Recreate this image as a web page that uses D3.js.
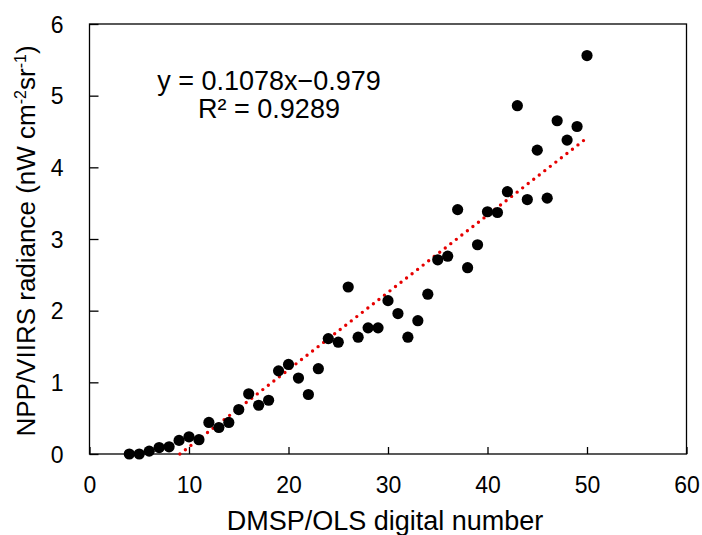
<!DOCTYPE html>
<meta charset="utf-8">
<style>
body { margin: 0; background: #fff; }
svg { font-family: "Liberation Sans", Arial, sans-serif; }
.tick text { font-size: 23px; fill: #000; }
.title { font-size: 27px; fill: #000; }
.eq { font-size: 27px; fill: #000; text-anchor: middle; }
</style>
<svg width="702" height="535"></svg>
<script src="https://d3js.org/d3.v7.min.js"></script>
<script>

// DMSP/OLS digital number vs. mean NPP/VIIRS radiance
var dn = [4, 5, 6, 7, 8, 9, 10, 11, 12, 13, 14, 15, 16, 17, 18, 19, 20, 21, 22, 23, 24, 25, 26, 27,
  28, 29, 30, 31, 32, 33, 34, 35, 36, 37, 38, 39, 40, 41, 42, 43, 44, 45, 46, 47, 48, 49, 50];
var radiance = [0.00, 0.00, 0.04, 0.09, 0.10, 0.19, 0.24, 0.20, 0.44, 0.37, 0.44, 0.62, 0.84, 0.68,
  0.75, 1.16, 1.25, 1.06, 0.83, 1.19, 1.61, 1.56, 2.33, 1.63, 1.76, 1.76, 2.14, 1.96, 1.63, 1.86,
  2.23, 2.71, 2.76, 3.41, 2.60, 2.92, 3.38, 3.37, 3.66, 4.86, 3.55, 4.24, 3.57, 4.65, 4.38, 4.57, 5.56];
var xTicks = [0, 10, 20, 30, 40, 50, 60];
var yTicks = [0, 1, 2, 3, 4, 5, 6];
var slope = 0.1078, intercept = -0.979;

var x = d3.scaleLinear().domain([0, 60]).range([89.5, 686.5]);
var y = d3.scaleLinear().domain([0, 6]).range([454, 24]);

var svg = d3.select('svg');

// frame
svg.append('rect')
  .attr('x', x(0)).attr('y', y(6))
  .attr('width', x(60) - x(0)).attr('height', y(0) - y(6))
  .attr('fill', 'none').attr('stroke', '#000').attr('stroke-width', 1.3);

var xAxis = svg.append('g')
  .attr('transform', 'translate(0,' + y(0) + ')')
  .call(d3.axisBottom(x).tickValues(xTicks).tickFormat(d3.format('d')).tickSize(-7).tickPadding(0));
xAxis.selectAll('text').attr('y', 39).attr('dy', null);

var yAxis = svg.append('g')
  .attr('transform', 'translate(' + x(0) + ',0)')
  .call(d3.axisLeft(y).tickValues(yTicks).tickFormat(d3.format('d')).tickSize(-9).tickPadding(0));
yAxis.selectAll('text').attr('x', -26).attr('dy', '0.35em');

svg.selectAll('.domain').remove();
svg.selectAll('.tick line').attr('stroke', '#000').attr('stroke-width', 1.3);

// trendline
var x0 = -intercept / slope;
svg.append('line')
  .attr('x1', x(x0)).attr('y1', y(slope * x0 + intercept))
  .attr('x2', x(50)).attr('y2', y(slope * 50 + intercept))
  .attr('stroke', '#e60000')
  .attr('stroke-width', 3.4)
  .attr('stroke-linecap', 'round')
  .attr('stroke-dasharray', '0 7');

// points
svg.append('g')
  .selectAll('circle')
  .data(dn)
  .enter().append('circle')
  .attr('cx', function (d) { return x(d); })
  .attr('cy', function (d, i) { return y(radiance[i]); })
  .attr('r', 5.6)
  .attr('fill', '#000');

// equation
svg.append('text').attr('class', 'eq').attr('x', 269).attr('y', 90)
  .text('y = 0.1078x\u22120.979');
svg.append('text').attr('class', 'eq').attr('x', 269).attr('y', 118)
  .text('R\u00b2 = 0.9289');

// axis titles
svg.append('text').attr('class', 'title')
  .attr('x', (x(0) + x(60)) / 2 - 3).attr('y', 530)
  .attr('text-anchor', 'middle')
  .text('DMSP/OLS digital number');

var yt = svg.append('text').attr('class', 'title')
  .attr('transform', 'translate(35,241) rotate(-90)')
  .attr('font-size', 26)
  .style('font-size', '26px')
  .attr('text-anchor', 'middle');
yt.append('tspan').text('NPP/VIIRS radiance (nW cm');
yt.append('tspan').attr('dy', -9).style('font-size', '16px').text('-2');
yt.append('tspan').attr('dy', 9).text('sr');
yt.append('tspan').attr('dy', -9).style('font-size', '16px').text('-1');
yt.append('tspan').attr('dy', 9).text(')');

</script>
